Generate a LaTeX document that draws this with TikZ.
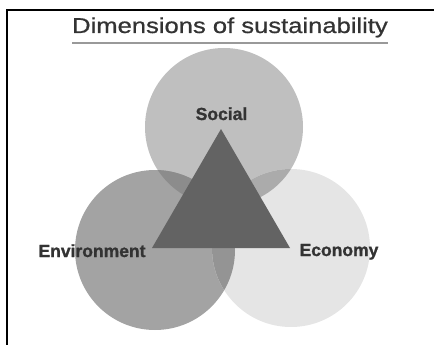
\documentclass[tikz,border=0pt]{standalone}
\usepackage{xcolor}
\usepackage{fontspec}
\setmainfont{Liberation Sans}
\newfontfamily\titlefont{Liberation Sans}[FakeBold=0.7]
\newfontfamily\labelfont{Liberation Sans Bold}[FakeBold=1.2]
\usepackage{tikz}

\begin{document}
\begin{tikzpicture}[x=1pt, y=-1pt, every node/.style={font={\labelfont\fontsize{17.5}{20}\selectfont}, text=black!80}]
   \useasboundingbox (0,0) rectangle (434,345);
   % Frame (left and top only)
   \draw[line width=2.5pt] (7,345) -- (7,10) -- (434,10);
   % Title and its rule
   \node[anchor=base, font={\titlefont\fontsize{21.5}{24}\selectfont}, xscale=1.19] (title) at (230,33) {Dimensions of sustainability};
   \draw[black!40, line width=1.5pt] (72,43) -- (388,43);

   % The three circles
   \fill[black!25] (224,127) circle (79);
   \fill[black!36] (155,250) circle (80);
   \fill[black!10] (291,248) circle (79);
   % Overlaps
   \begin{scope}
     \clip (224,127) circle (79);
     \fill[black!45] (155,250) circle (80);
     \fill[black!33] (291,248) circle (79);
   \end{scope}
   \begin{scope}
     \clip (155,250) circle (80);
     \fill[black!42] (291,248) circle (79);
   \end{scope}

   % Triangle on top
   \coordinate (top) at (221,129);
   \coordinate (left) at (152,248);
   \coordinate (right) at (290,248);
   \fill[black!61] (top) -- (left) -- (right) -- cycle;

   % Labels
   \node[anchor=base] (social) at (221.5,120) {Social};
   \node[anchor=base] (environment) at (92,257) {Environment};
   \node[anchor=base] (economy) at (339,256) {Economy};
\end{tikzpicture}
\end{document}
